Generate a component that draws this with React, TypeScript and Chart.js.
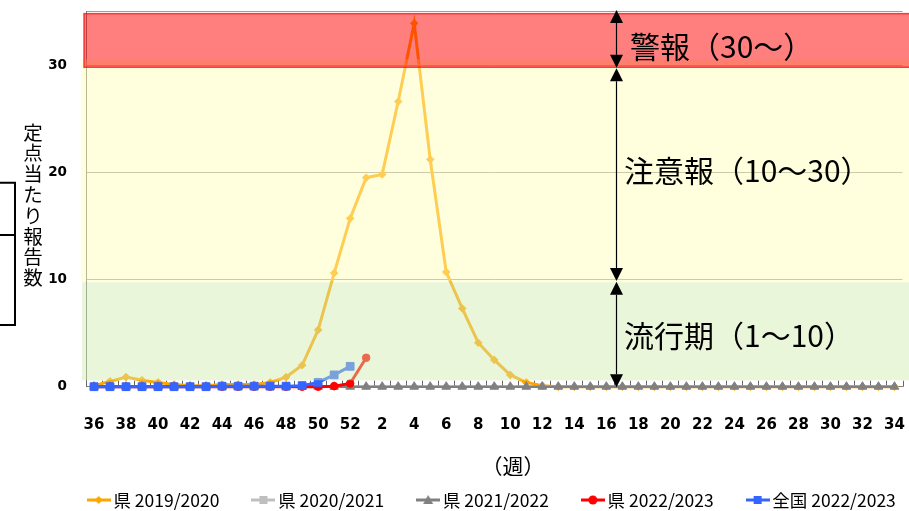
import React, { useEffect, useRef } from 'react';
import { Chart, registerables } from 'chart.js';

Chart.register(...registerables);

// ---- data ----
const categories = ['36','37','38','39','40','41','42','43','44','45','46','47','48','49','50','51','52','1','2','3','4','5','6','7','8','9','10','11','12','13','14','15','16','17','18','19','20','21','22','23','24','25','26','27','28','29','30','31','32','33','34'];

const pref2019 = [0.1,0.5,0.9,0.6,0.4,0.2,0.1,0.1,0.2,0.2,0.2,0.4,0.9,2.0,5.3,10.6,15.7,19.5,19.8,26.6,33.9,21.2,10.7,7.3,4.1,2.5,1.1,0.4,0.1,0,0,0,0,0,0,0,0,0,0,0,0,0,0,0,0,0,0,0,0,0,0];
const pref2020 = [0,0,0,0,0,0,0,0,0,0,0,0,0,0,0,0,0,0,0,0,0,0,0,0,0,0,0,0,0,0,0,0,0,0,0,0,0,0,0,0,0,0,0,0,0,0,0,0,0,0,0];
const pref2021 = [0,0,0,0,0,0,0,0,0,0,0,0,0,0,0,0,0,0,0,0,0,0,0,0,0,0,0,0,0,0,0,0,0,0,0,0,0,0,0,0,0,0,0,0,0,0,0,0,0,0,0];
const pref2022 = [0,0,0,0,0,0,0,0,0,0,0,0,0,0,0,0.05,0.3,2.7];
const national2022 = [0,0,0,0,0,0,0,0,0.05,0.05,0.05,0.05,0.05,0.1,0.4,1.1,1.9];

const seriesLabels = ['県 2019/2020', '県 2020/2021', '県 2021/2022', '県 2022/2023', '全国 2022/2023'];
const yTickValues = [0, 10, 20, 30];
const yMax = 35;
const levelTexts = ['警報（30～）', '注意報（10～30）', '流行期（1～10）'];
const yTitle = '定点当たり報告数';
const xTitle = '（週）';

const CJK = '"Noto Sans CJK JP", "Noto Sans", sans-serif';

function makeIcon(color: string, shape: string) {
  const c = document.createElement('canvas');
  c.width = 24;
  c.height = 14;
  const g = c.getContext('2d')!;
  g.strokeStyle = color;
  g.fillStyle = color;
  g.lineWidth = 3;
  g.beginPath();
  g.moveTo(0, 7);
  g.lineTo(24, 7);
  g.stroke();
  g.beginPath();
  if (shape === 'diamond') {
    g.moveTo(12, 3); g.lineTo(16, 7); g.lineTo(12, 11); g.lineTo(8, 7); g.closePath();
  } else if (shape === 'square') {
    g.rect(8, 3, 8, 8);
  } else if (shape === 'triangle') {
    g.moveTo(12, 2); g.lineTo(17, 11); g.lineTo(7, 11); g.closePath();
  } else {
    g.arc(12, 7, 4.5, 0, Math.PI * 2);
  }
  g.fill();
  return c;
}

function drawArrow(ctx: CanvasRenderingContext2D, x: number, y1: number, y2: number) {
  const hw = 6.5, hl = 13;
  ctx.beginPath();
  ctx.moveTo(x + 0.5, y1 + hl);
  ctx.lineTo(x + 0.5, y2 - hl);
  ctx.stroke();
  ctx.beginPath();
  ctx.moveTo(x + 0.5, y1);
  ctx.lineTo(x + 0.5 + hw, y1 + hl);
  ctx.lineTo(x + 0.5 - hw, y1 + hl);
  ctx.closePath();
  ctx.fill();
  ctx.beginPath();
  ctx.moveTo(x + 0.5, y2);
  ctx.lineTo(x + 0.5 + hw, y2 - hl);
  ctx.lineTo(x + 0.5 - hw, y2 - hl);
  ctx.closePath();
  ctx.fill();
}

const overlayPlugin = {
  id: 'overlay',
  beforeDatasetsDraw(chart: any) {
    const { ctx, scales: { x, y } } = chart;
    const n = categories.length;
    const w = (x.right - x.left) / n;
    ctx.save();
    ctx.strokeStyle = '#666';
    ctx.lineWidth = 1;
    ctx.beginPath();
    for (let i = 0; i <= n; i++) {
      const px = Math.round(x.left + i * w) + 0.5;
      ctx.moveTo(px, y.bottom);
      ctx.lineTo(px, y.bottom - 6);
    }
    ctx.stroke();
    ctx.restore();
  },
  afterDatasetsDraw(chart: any) {
    const { ctx, scales: { x, y } } = chart;
    const W = chart.width;
    ctx.save();
    // green band (1-10)
    const gTop = y.getPixelForValue(9.75), gBot = y.getPixelForValue(0.6);
    ctx.fillStyle = 'rgba(209,235,173,0.45)';
    ctx.fillRect(x.left - 4, gTop, W - (x.left - 4), gBot - gTop);
    // yellow band (10-30)
    const yTop = y.getPixelForValue(30.55), yBot = y.getPixelForValue(9.8);
    ctx.fillStyle = 'rgba(255,255,180,0.45)';
    ctx.fillRect(x.left - 5, yTop, W - (x.left - 5), yBot - yTop);
    // red band (30-)
    const rTop = y.getPixelForValue(34.8), rBot = y.getPixelForValue(29.8);
    ctx.fillStyle = 'rgba(255,0,0,0.5)';
    ctx.fillRect(x.left - 2, rTop, W - (x.left - 2), rBot - rTop);
    ctx.strokeStyle = 'rgba(255,20,20,0.8)';
    ctx.lineWidth = 1.5;
    ctx.strokeRect(x.left - 2, rTop, W - (x.left - 2) + 2, rBot - rTop);
    ctx.restore();
  },
  afterDraw(chart: any) {
    const { ctx, scales: { x, y } } = chart;
    ctx.save();
    // arrows
    const ax = Math.round(x.left + (x.right - x.left) * 0.6495);
    ctx.strokeStyle = '#000';
    ctx.fillStyle = '#000';
    ctx.lineWidth = 1.2;
    drawArrow(ctx, ax, y.getPixelForValue(35.15), y.getPixelForValue(29.75));
    drawArrow(ctx, ax, y.getPixelForValue(29.7), y.getPixelForValue(9.85));
    drawArrow(ctx, ax, y.getPixelForValue(9.8), y.getPixelForValue(-0.05));
    // level texts
    ctx.font = '30px ' + CJK;
    ctx.textBaseline = 'middle';
    ctx.textAlign = 'left';
    ctx.fillText(levelTexts[0], ax + 14, y.getPixelForValue(31.75));
    ctx.fillText(levelTexts[1], ax + 8, y.getPixelForValue(20.15));
    ctx.fillText(levelTexts[2], ax + 8, y.getPixelForValue(4.75));
    // y title, stacked vertically
    ctx.font = '19.5px ' + CJK;
    ctx.textAlign = 'center';
    const chars = yTitle.split('');
    const startY = y.getPixelForValue(23.75);
    chars.forEach((ch, i) => ctx.fillText(ch, 33, startY + i * 20.8));
    // x title
    ctx.font = '21px ' + CJK;
    ctx.fillText(xTitle, x.left + (x.right - x.left) * 0.523, y.bottom + 79.5);
    // bracket at the left edge
    ctx.lineWidth = 2;
    ctx.beginPath();
    const b1 = y.getPixelForValue(19.03), b2 = y.getPixelForValue(14.15), b3 = y.getPixelForValue(5.76);
    ctx.moveTo(0, b1); ctx.lineTo(15, b1); ctx.lineTo(15, b3); ctx.lineTo(0, b3);
    ctx.moveTo(0, b2); ctx.lineTo(15, b2);
    ctx.stroke();
    ctx.restore();
  },
};

export default function App() {
  const ref = useRef<HTMLCanvasElement | null>(null);
  useEffect(() => {
    document.body.style.margin = '0';
    if (!ref.current) return;
    const icons = [
      makeIcon('#FFA500', 'diamond'),
      makeIcon('#BFBFBF', 'square'),
      makeIcon('#808080', 'triangle'),
      makeIcon('#FF0000', 'circle'),
      makeIcon('#3366FF', 'square'),
    ];
    const chart = new Chart(ref.current, {
      type: 'line',
      data: {
        labels: categories,
        datasets: [
          { label: seriesLabels[0], data: pref2019, borderColor: '#FFA500', backgroundColor: '#FFA500', pointBorderColor: '#FFA500', pointBackgroundColor: '#FFA500', borderWidth: 3, pointStyle: 'rectRot', pointRadius: 3.8, pointBorderWidth: 1, order: 5 },
          { label: seriesLabels[1], data: pref2020, borderColor: '#BFBFBF', backgroundColor: '#BFBFBF', pointBorderColor: '#BFBFBF', pointBackgroundColor: '#BFBFBF', borderWidth: 2.5, pointStyle: 'rect', pointRadius: 3, pointBorderWidth: 1, order: 4 },
          { label: seriesLabels[2], data: pref2021, borderColor: '#808080', backgroundColor: '#808080', pointBorderColor: '#808080', pointBackgroundColor: '#808080', borderWidth: 2.5, pointStyle: 'triangle', pointRadius: 5, pointBorderWidth: 1, order: 3 },
          { label: seriesLabels[3], data: pref2022, borderColor: '#FF0000', backgroundColor: '#FF0000', pointBorderColor: '#FF0000', pointBackgroundColor: '#FF0000', borderWidth: 3, pointStyle: 'circle', pointRadius: 3.8, pointBorderWidth: 1, order: 2 },
          { label: seriesLabels[4], data: national2022, borderColor: '#3366FF', backgroundColor: '#3366FF', pointBorderColor: '#3366FF', pointBackgroundColor: '#3366FF', borderWidth: 3, pointStyle: 'rect', pointRadius: 5.5, pointBorderWidth: 1, order: 1 },
        ],
      },
      options: {
        animation: false,
        responsive: true,
        maintainAspectRatio: false,
        clip: false as any,
        layout: { padding: { left: 40, right: 4, top: 11.5, bottom: -7.75 } },
        plugins: {
          tooltip: { enabled: false },
          legend: {
            position: 'bottom',
            fullSize: false,
            labels: {
              usePointStyle: true,
              pointStyleWidth: 12,
              padding: 3,
              color: '#000',
              font: { family: CJK, size: 17.5 },
              generateLabels: (ch: any) =>
                ch.data.datasets.map((ds: any, i: number) => ({
                  text: i < ch.data.datasets.length - 1 ? ds.label + '\u2003\u2003' : ds.label,
                  pointStyle: icons[i],
                  fillStyle: 'transparent',
                  strokeStyle: 'transparent',
                  lineWidth: 0,
                  hidden: !ch.isDatasetVisible(i),
                  datasetIndex: i,
                  fontColor: '#000',
                })),
            },
          },
        },
        scales: {
          x: {
            type: 'category',
            offset: true,
            grid: { display: false, drawTicks: true, tickLength: 28 },
            border: { display: true, color: '#7f7f7f', width: 1 },
            ticks: {
              autoSkip: false,
              maxRotation: 0,
              minRotation: 0,
              padding: 1,
              color: '#000',
              font: { family: '"DejaVu Sans", sans-serif', size: 15, weight: 'bold' },
              callback: (_v: any, i: number) => (i % 2 === 0 ? categories[i] : ''),
            },
            afterFit: (s: any) => { s.height = 101.55; },
          },
          y: {
            min: 0,
            max: yMax,
            afterBuildTicks: (s: any) => { s.ticks = [...yTickValues, yMax].map((v) => ({ value: v })); },
            ticks: {
              padding: 1,
              color: '#000',
              font: { family: '"DejaVu Sans", sans-serif', size: 13.5, weight: 'bold' },
              callback: (v: any) => (yTickValues.includes(Number(v)) ? String(v) : ''),
            },
            grid: { color: '#a0a0a0', drawTicks: true, tickLength: 18, tickColor: 'rgba(0,0,0,0)', lineWidth: 1 },
            border: { display: true, color: '#7f7f7f', width: 1 },
            afterFit: (s: any) => { s.width = 46; },
          },
        },
      } as any,
      plugins: [overlayPlugin],
    });
    return () => chart.destroy();
  }, []);
  return (
    <div style={{ position: 'relative', width: 909, height: 511 }}>
      <canvas ref={ref} />
    </div>
  );
}
